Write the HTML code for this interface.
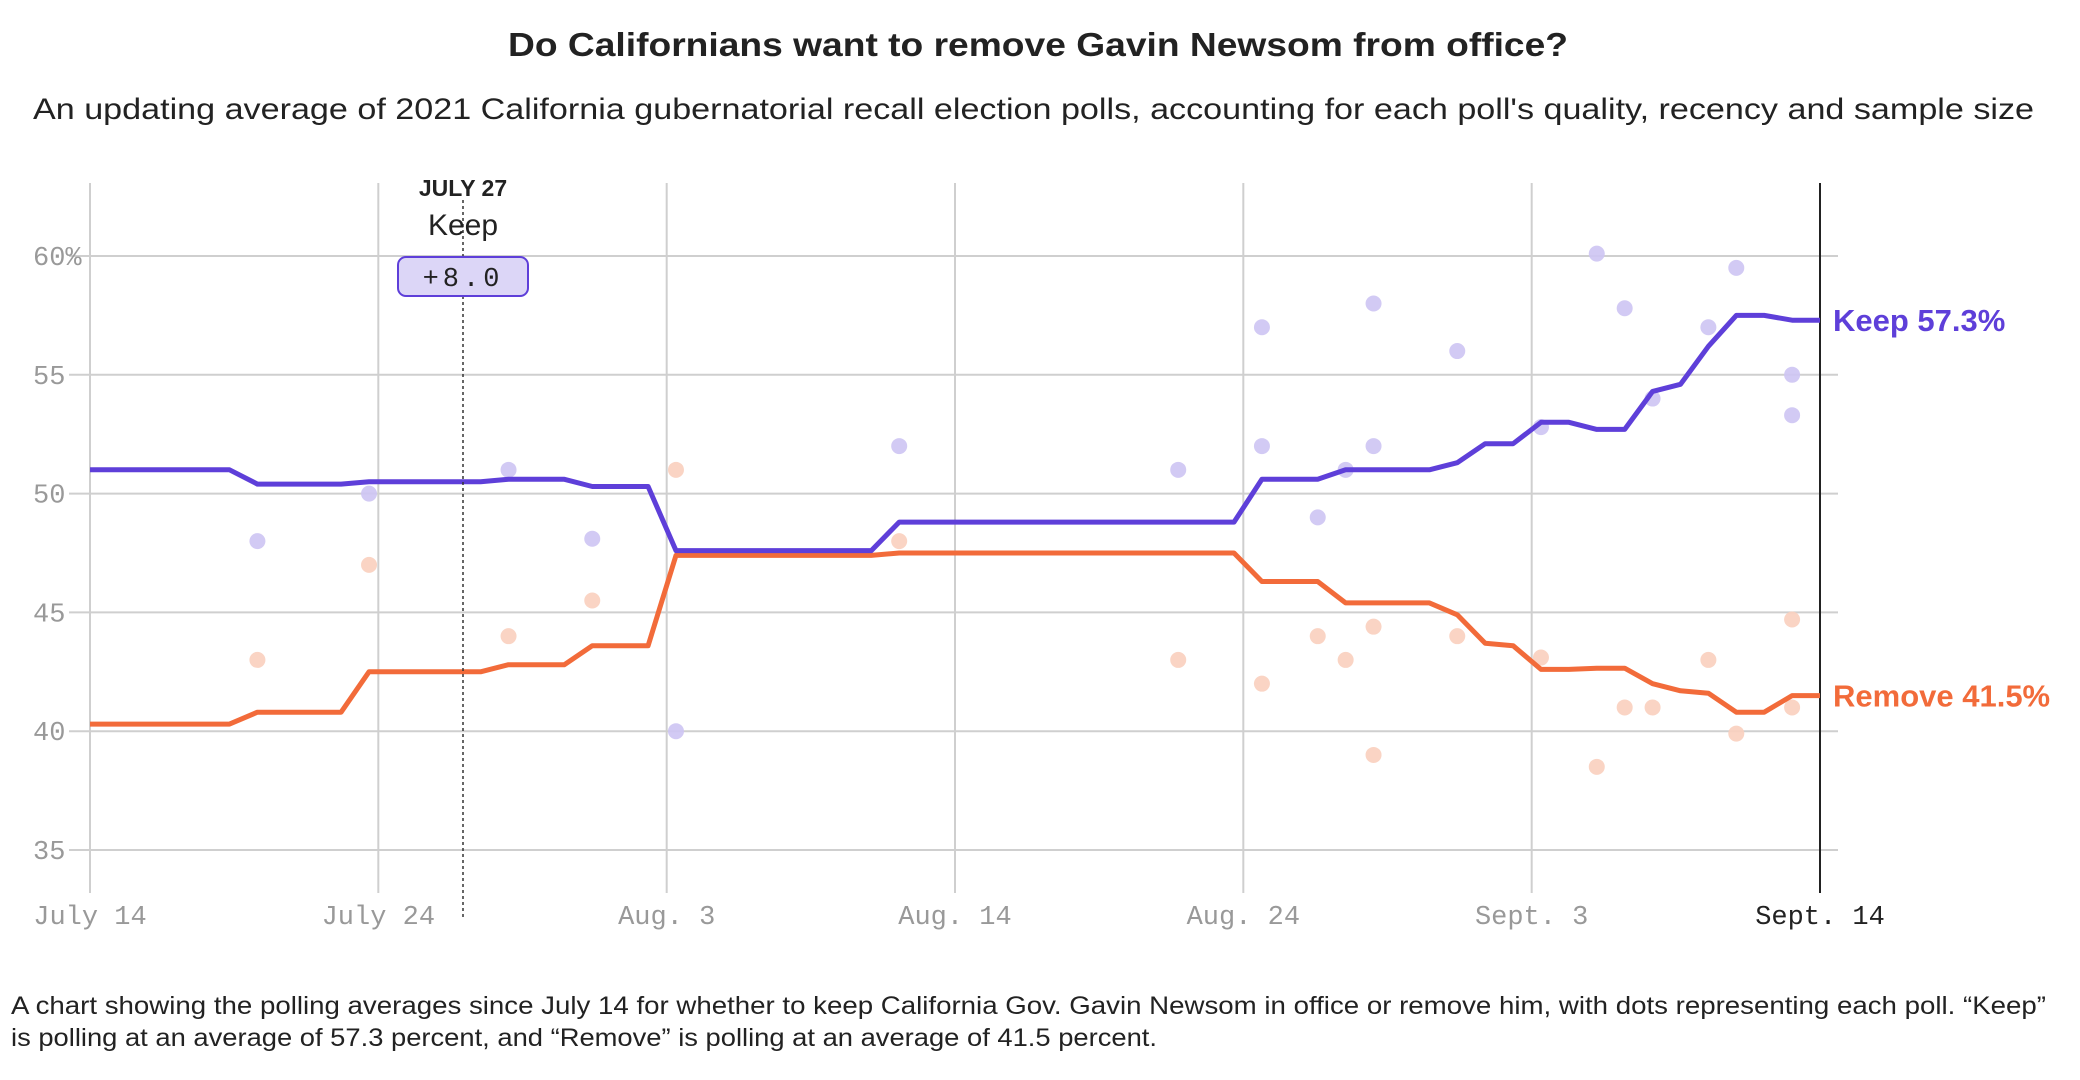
<!DOCTYPE html>
<html><head><meta charset="utf-8"><style>
html,body{margin:0;padding:0;background:#fff;}
svg{display:block;}
</style></head><body>
<svg id="chart" width="2080" height="1080" viewBox="0 0 2080 1080" xmlns="http://www.w3.org/2000/svg">
<text x="1038" y="56" text-anchor="middle" font-family="Liberation Sans, sans-serif" font-weight="bold" font-size="33" fill="#222" textLength="1060" lengthAdjust="spacingAndGlyphs">Do Californians want to remove Gavin Newsom from office?</text>
<text x="33" y="119" font-family="Liberation Sans, sans-serif" font-size="30" fill="#222" textLength="2001" lengthAdjust="spacingAndGlyphs">An updating average of 2021 California gubernatorial recall election polls, accounting for each poll's quality, recency and sample size</text>
<g id="grid"></g>
<g id="dots"></g>
<g id="lines"></g>
<g id="annot">
<line x1="463" y1="200" x2="463" y2="920" stroke="#333" stroke-width="1.5" stroke-dasharray="3,3"/>
<text x="463" y="196" text-anchor="middle" font-family="Liberation Sans, sans-serif" font-weight="bold" font-size="23" fill="#222">JULY 27</text>
<text x="463" y="235" text-anchor="middle" font-family="Liberation Sans, sans-serif" font-size="30" fill="#222">Keep</text>
<rect x="398" y="257" width="130" height="39" rx="8" fill="#dcd6f7" stroke="#5e3fd9" stroke-width="2"/>
<text x="463" y="286" text-anchor="middle" font-family="Liberation Mono, monospace" font-size="27" fill="#222" letter-spacing="4">+8.0</text>
</g>
<text x="11" y="1014" font-family="Liberation Sans, sans-serif" font-size="25" fill="#222" textLength="2035" lengthAdjust="spacingAndGlyphs">A chart showing the polling averages since July 14 for whether to keep California Gov. Gavin Newsom in office or remove him, with dots representing each poll. “Keep”</text>
<text x="11" y="1046" font-family="Liberation Sans, sans-serif" font-size="25" fill="#222" textLength="1146" lengthAdjust="spacingAndGlyphs">is polling at an average of 57.3 percent, and “Remove” is polling at an average of 41.5 percent.</text>
</svg>
<script>
const yTicks = [35, 40, 45, 50, 55, 60];
const yTickLabels = ["35", "40", "45", "50", "55", "60%"];
const xTickDays = [0, 10.333, 20.667, 31, 41.333, 51.667, 62];
const xTickLabels = ["July 14", "July 24", "Aug. 3", "Aug. 14", "Aug. 24", "Sept. 3", "Sept. 14"];
const keepAvg = [51,51,51,51,51,51,50.4,50.4,50.4,50.4,50.5,50.5,50.5,50.5,50.5,50.6,50.6,50.6,50.3,50.3,50.3,47.6,47.6,47.6,47.6,47.6,47.6,47.6,47.6,48.8,48.8,48.8,48.8,48.8,48.8,48.8,48.8,48.8,48.8,48.8,48.8,48.8,50.6,50.6,50.6,51,51,51,51,51.3,52.1,52.1,53,53,52.7,52.7,54.3,54.6,56.2,57.5,57.5,57.3,57.3];
const removeAvg = [40.3,40.3,40.3,40.3,40.3,40.3,40.8,40.8,40.8,40.8,42.5,42.5,42.5,42.5,42.5,42.8,42.8,42.8,43.6,43.6,43.6,47.4,47.4,47.4,47.4,47.4,47.4,47.4,47.4,47.5,47.5,47.5,47.5,47.5,47.5,47.5,47.5,47.5,47.5,47.5,47.5,47.5,46.3,46.3,46.3,45.4,45.4,45.4,45.4,44.9,43.7,43.6,42.6,42.6,42.65,42.65,42.0,41.7,41.6,40.8,40.8,41.5,41.5];
const keepPollDays = [6,10,15,18,21,29,39,42,42,44,45,46,46,49,52,54,55,56,58,59,61,61];
const keepPollVals = [48,50,51,48.1,40,52,51,57,52,49,51,58,52,56,52.8,60.1,57.8,54,57,59.5,55,53.3];
const removePollDays = [6,10,15,18,21,29,39,42,44,45,46,46,49,52,54,55,56,58,59,61,61];
const removePollVals = [43,47,44,45.5,51,48,43,42,44,43,44.4,39,44,43.1,38.5,41,41,43,39.9,44.7,41];

const NS = "http://www.w3.org/2000/svg";
const X0 = 90, X1 = 1820, DMAX = 62;
function xs(d){ return X0 + (X1 - X0) * d / DMAX; }
function ys(v){ return 256 + (60 - v) * 23.76; }
function mk(tag, attrs, parent){
  const e = document.createElementNS(NS, tag);
  for (const k in attrs) e.setAttribute(k, attrs[k]);
  parent.appendChild(e);
  return e;
}
const grid = document.getElementById('grid');
yTicks.forEach((v, i) => {
  const l = mk('line', {x1: 69, x2: 1838, y1: ys(v), y2: ys(v), stroke: '#cfcfcf', 'stroke-width': 2}, grid);
  
  
  const t = mk('text', {x: 33, y: ys(v) + 9, 'font-family': 'Liberation Mono, monospace', 'font-size': 27, fill: '#999'}, grid);
  
  
  t.textContent = yTickLabels[i];
});
xTickDays.forEach((d, i) => {
  const last = i === xTickDays.length - 1;
  const l = mk('line', {x1: xs(d), x2: xs(d), y1: 183, y2: 893, stroke: last ? '#222' : '#cfcfcf', 'stroke-width': 2}, grid);
  
  
  const t = mk('text', {x: xs(d), y: 924, 'text-anchor': 'middle', 'font-family': 'Liberation Mono, monospace', 'font-size': 27, fill: last ? '#222' : '#999', 'xml:space': 'preserve'}, grid);
  
  
  t.textContent = xTickLabels[i];
});
const dots = document.getElementById('dots');
removePollDays.forEach((d, i) => {
  const c = mk('circle', {cx: xs(d), cy: ys(removePollVals[i]), r: 8, fill: '#f9cfbe', opacity: 0.9}, dots);
  
  
});
keepPollDays.forEach((d, i) => {
  const c = mk('circle', {cx: xs(d), cy: ys(keepPollVals[i]), r: 8, fill: '#cdc4f3', opacity: 0.9}, dots);
  
  
});
const lines = document.getElementById('lines');
function path(arr){ return arr.map((v, d) => (d ? 'L' : 'M') + xs(d).toFixed(1) + ',' + ys(v).toFixed(1)).join(''); }
const pr = mk('path', {d: path(removeAvg), fill: 'none', stroke: '#f26b3a', 'stroke-width': 5, 'stroke-linejoin': 'round'}, lines);


const pk = mk('path', {d: path(keepAvg), fill: 'none', stroke: '#5e3fd9', 'stroke-width': 5, 'stroke-linejoin': 'round'}, lines);


const lastK = keepAvg[keepAvg.length - 1], lastR = removeAvg[removeAvg.length - 1];
const tk = mk('text', {x: X1 + 13, y: ys(lastK) + 11, 'font-family': 'Liberation Sans, sans-serif', 'font-weight': 'bold', 'font-size': 31, fill: '#5e3fd9'}, lines);


tk.textContent = 'Keep ' + lastK.toFixed(1) + '%';
const tr = mk('text', {x: X1 + 13, y: ys(lastR) + 11, 'font-family': 'Liberation Sans, sans-serif', 'font-weight': 'bold', 'font-size': 31, fill: '#f26b3a'}, lines);


tr.textContent = 'Remove ' + lastR.toFixed(1) + '%';
</script>
</body></html>
